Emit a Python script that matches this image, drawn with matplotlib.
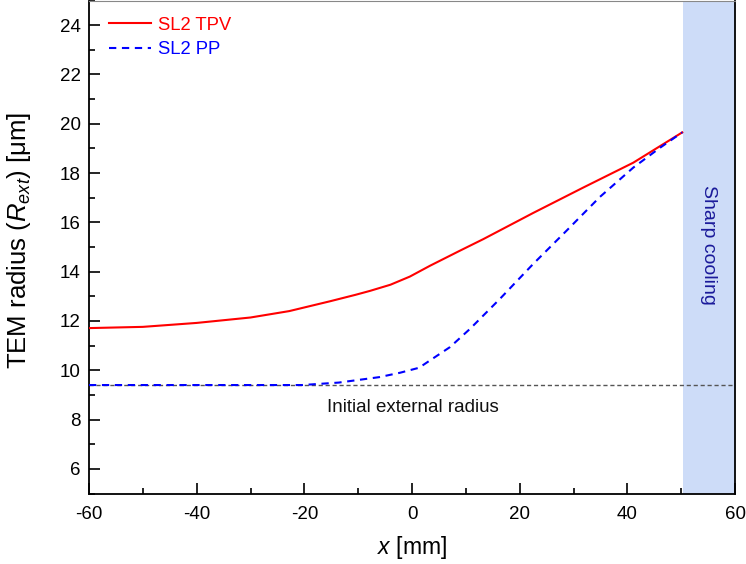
import matplotlib
matplotlib.use("Agg")
import matplotlib.pyplot as plt
from matplotlib.ticker import MultipleLocator

plt.rcParams['font.family'] = ['Liberation Sans', 'DejaVu Sans']
plt.rcParams['mathtext.fontset'] = 'custom'
plt.rcParams['mathtext.rm'] = 'Liberation Sans'
plt.rcParams['mathtext.it'] = 'Liberation Sans:italic'
plt.rcParams['axes.unicode_minus'] = False

# Data
tpv_x = [-60, -50, -40, -30, -22.8, -15.2, -10.5, -7.8, -4, -0.4, 3.35, 8.9, 13.25, 22.5, 31.8, 41.1, 50.2]
tpv_y = [11.71, 11.76, 11.92, 12.14, 12.40, 12.80, 13.06, 13.22, 13.47, 13.80, 14.24, 14.85, 15.32, 16.38, 17.41, 18.42, 19.65]

pp_x = [-60, -20.4, -13.6, -6.1, -2.2, 1.3, 3.35, 7.06, 10.78, 16.35, 22.5, 28.7, 34.9, 41.1, 46.1, 50.2]
pp_y = [9.4, 9.4, 9.5, 9.72, 9.9, 10.1, 10.4, 10.94, 11.68, 12.9, 14.31, 15.66, 17.03, 18.22, 19.03, 19.65]

initial_radius = 9.4
cooling_start, cooling_end = 50.3, 60

fig = plt.figure(figsize=(7.46, 5.64), dpi=100)
ax = fig.add_axes([89/746, 1 - 493.5/564, (735-89)/746, 493/564])

ax.axvspan(cooling_start, cooling_end, color='#cddcf8', lw=0, zorder=0)
ax.axhline(initial_radius, color='#555555', lw=1.0, ls=(0, (3, 2)), zorder=1)

ax.plot(tpv_x, tpv_y, color='#ff0000', lw=1.5, label='SL2 TPV', zorder=3)
ax.plot(pp_x, pp_y, color='#0000ff', lw=1.5, ls=(0, (3.5, 2.7)), label='SL2 PP', zorder=3)

ax.set_xlim(-60, 60)
ax.set_ylim(5, 25)
ax.xaxis.set_major_locator(MultipleLocator(20))
ax.xaxis.set_minor_locator(MultipleLocator(10))
ax.yaxis.set_major_locator(MultipleLocator(2))
ax.yaxis.set_minor_locator(MultipleLocator(1))
ax.tick_params(which='both', direction='in', top=False, right=False, labelsize=13.5, width=1.2)
ax.tick_params(axis='x', which='major', length=8, pad=9)
ax.tick_params(axis='y', which='major', length=8, pad=6)
ax.tick_params(which='minor', length=4.5)

for s in ['left', 'bottom', 'right']:
    ax.spines[s].set_linewidth(1.3)
ax.spines['top'].set_color('#888888')

ax.set_xlabel('$x$ [mm]', fontsize=16.5, labelpad=8)
ax.set_ylabel(r'TEM radius ($R_{ext}$) [μm]', fontsize=18.5)
ax.yaxis.set_label_coords(-0.087, 0.513)

ax.text(0.2, 8.85, 'Initial external radius', fontsize=13.5, ha='center', va='top', color='#111111')
ax.text(55.1, 15.1, 'Sharp cooling', fontsize=14, rotation=-90, ha='center', va='center', color='#1a1a9a')

leg = ax.legend(loc='upper left', frameon=False, fontsize=13.3, handlelength=2.3,
                handletextpad=0.35, labelspacing=0.4, borderaxespad=0.0,
                bbox_to_anchor=(0.0195, 0.982))
for t, c in zip(leg.get_texts(), ['#ff0000', '#0000ff']):
    t.set_color(c)

fig.savefig('out.png', dpi=100)
